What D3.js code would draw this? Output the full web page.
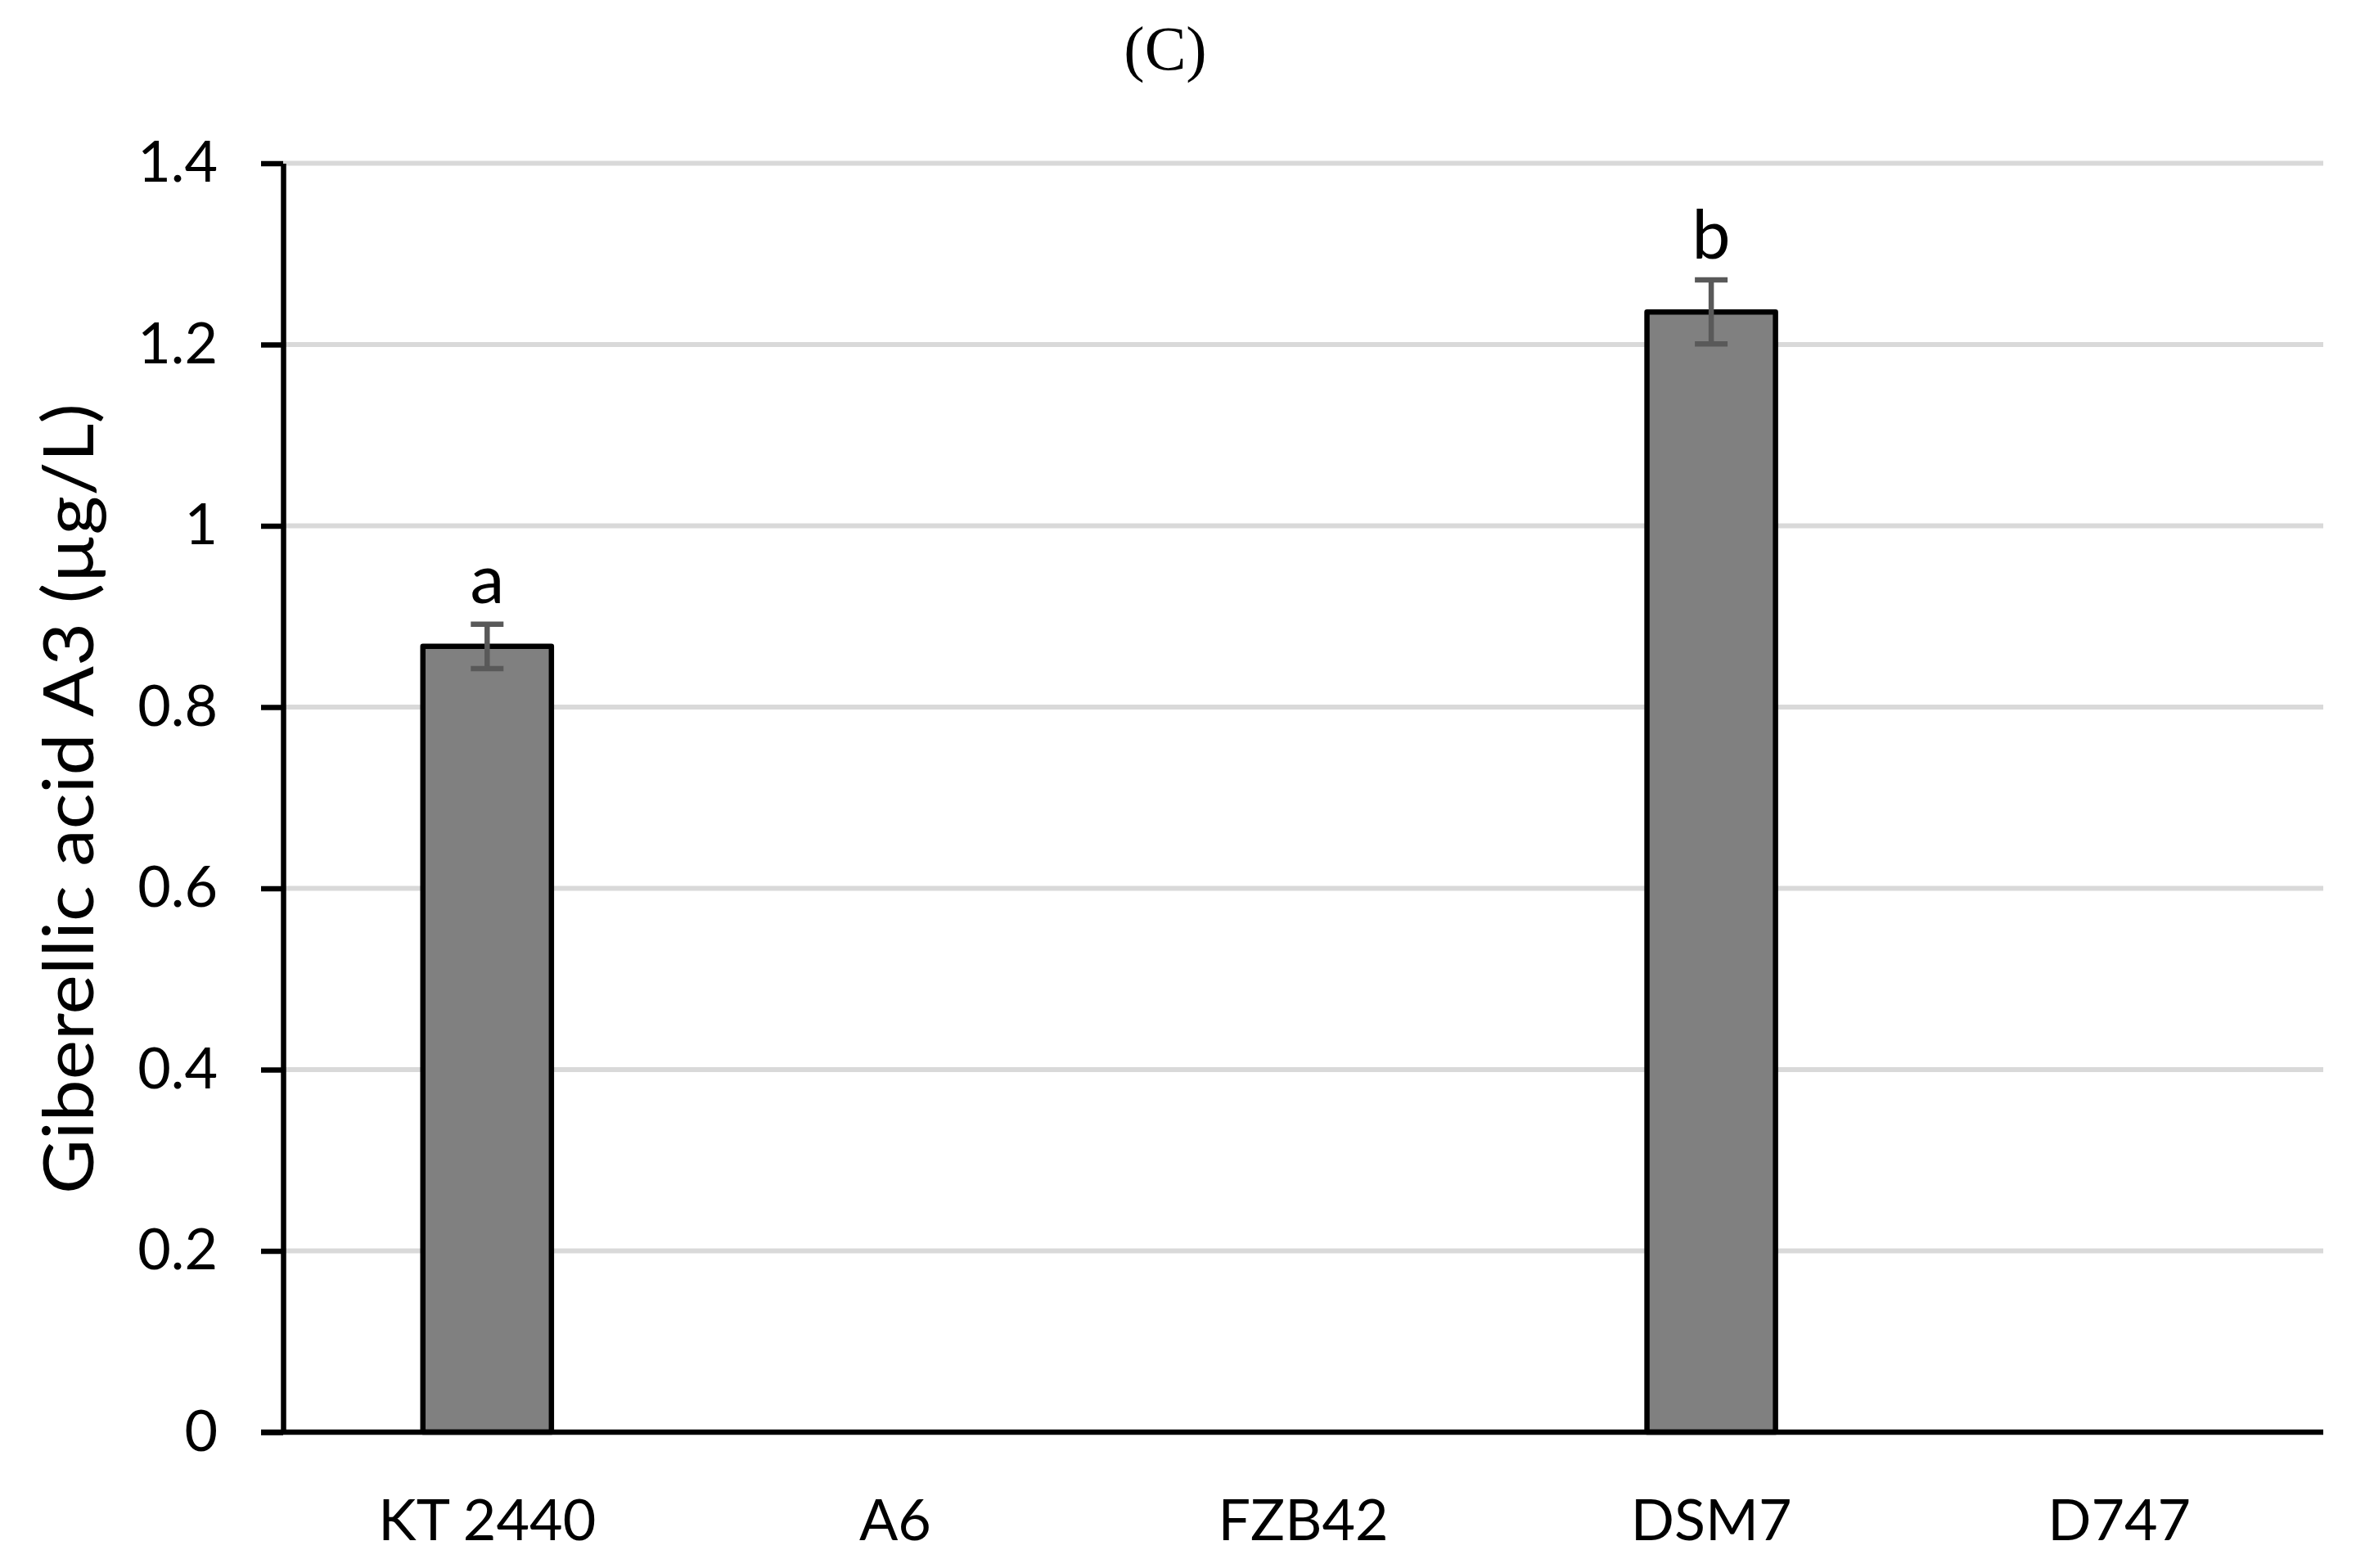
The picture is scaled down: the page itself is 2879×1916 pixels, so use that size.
<!DOCTYPE html>
<html>
<head>
<meta charset="utf-8">
<script src="https://cdn.jsdelivr.net/npm/d3@7"></script>
<style>
  html, body { margin: 0; padding: 0; background: #fff; }
  svg { display: block; }
</style>
</head>
<body>
<script>
// ---- data ----
const categories = ["KT 2440", "A6", "FZB42", "DSM7", "D747"];
const values = [0.867, 0, 0, 1.236, 0];
const errors = [0.0245, 0, 0, 0.0353, 0];
const letters = ["a", "", "", "b", ""];
const yTicks = [0, 0.2, 0.4, 0.6, 0.8, 1.0, 1.2, 1.4];
const chartTitle = "(C)";
const yLabel = "Giberellic acid A3 (µg/L)";

// ---- layout ----
const W = 2879, H = 1916;
const plotLeft = 346, plotRight = 2839, plotTop = 199.5, plotBottom = 1750;
const font = "Lato, 'Open Sans', sans-serif";

const svg = d3.select("body").append("svg")
  .attr("width", W).attr("height", H)
  .style("background", "#fff");

const y = d3.scaleLinear().domain([0, 1.4]).range([plotBottom, plotTop]);
const x = d3.scaleBand().domain(categories).range([plotLeft, plotRight]).padding(0);
const barW = x.step() * 0.315;

// gridlines
svg.append("g").selectAll("line")
  .data(yTicks.filter(d => d > 0))
  .join("line")
  .attr("x1", plotLeft).attr("x2", plotRight)
  .attr("y1", d => y(d)).attr("y2", d => y(d))
  .attr("stroke", "#d9d9d9").attr("stroke-width", 6);

// bars
const data = categories.map((c, i) => ({ c, v: values[i], e: errors[i], l: letters[i] }));
const shown = data.filter(d => d.v > 0);

svg.append("g").selectAll("rect")
  .data(shown)
  .join("rect")
  .attr("x", d => x(d.c) + x.bandwidth() / 2 - barW / 2)
  .attr("width", barW)
  .attr("y", d => y(d.v))
  .attr("height", d => y(0) - y(d.v))
  .attr("fill", "#808080")
  .attr("stroke", "#000")
  .attr("stroke-width", 6.5)
  .attr("stroke-linejoin", "round");

// error bars
const eg = svg.append("g").attr("stroke", "#595959").attr("stroke-width", 6.5);
shown.forEach(d => {
  const cx = x(d.c) + x.bandwidth() / 2;
  eg.append("line").attr("x1", cx).attr("x2", cx).attr("y1", y(d.v + d.e)).attr("y2", y(d.v - d.e));
  eg.append("line").attr("x1", cx - 20).attr("x2", cx + 20).attr("y1", y(d.v + d.e)).attr("y2", y(d.v + d.e));
  eg.append("line").attr("x1", cx - 20).attr("x2", cx + 20).attr("y1", y(d.v - d.e)).attr("y2", y(d.v - d.e));
});

// significance letters
svg.append("g").selectAll("text")
  .data(shown)
  .join("text")
  .attr("x", d => x(d.c) + x.bandwidth() / 2)
  .attr("y", d => y(d.v + d.e) - 26)
  .attr("text-anchor", "middle")
  .attr("font-family", font)
  .attr("font-size", 84)
  .attr("fill", "#000")
  .text(d => d.l);

// y axis
const yAxis = svg.append("g")
  .attr("transform", `translate(${plotLeft},0)`)
  .call(d3.axisLeft(y).tickValues(yTicks).tickSize(27).tickSizeOuter(0).tickPadding(53)
    .tickFormat(d => String(+d.toFixed(1))));
yAxis.select(".domain").attr("stroke", "#000").attr("stroke-width", 6.5);
yAxis.selectAll(".tick line").attr("stroke", "#000").attr("stroke-width", 6.5);
yAxis.selectAll("text").attr("font-family", font).attr("font-size", 70).attr("fill", "#000");

// x axis
const xAxis = svg.append("g")
  .attr("transform", `translate(0,${plotBottom})`)
  .call(d3.axisBottom(x).tickSize(0).tickSizeOuter(0));
xAxis.select(".domain").attr("stroke", "#000").attr("stroke-width", 6.5)
  .attr("d", `M${plotLeft - 27},0H${plotRight}`);
xAxis.selectAll("text").attr("font-family", font).attr("font-size", 70).attr("fill", "#000")
  .attr("y", 132).attr("dy", 0);

// y label
svg.append("text")
  .attr("transform", "translate(114,976) rotate(-90)")
  .attr("text-anchor", "middle")
  .attr("font-family", font)
  .attr("font-size", 86)
  .attr("textLength", 966)
  .attr("lengthAdjust", "spacingAndGlyphs")
  .attr("fill", "#000")
  .text(yLabel);

// title
svg.append("text")
  .attr("x", 1424).attr("y", 85)
  .attr("text-anchor", "middle")
  .attr("font-family", "'Liberation Serif', 'Times New Roman', serif")
  .attr("font-size", 76)
  .attr("fill", "#000")
  .text(chartTitle);
</script>
</body>
</html>
